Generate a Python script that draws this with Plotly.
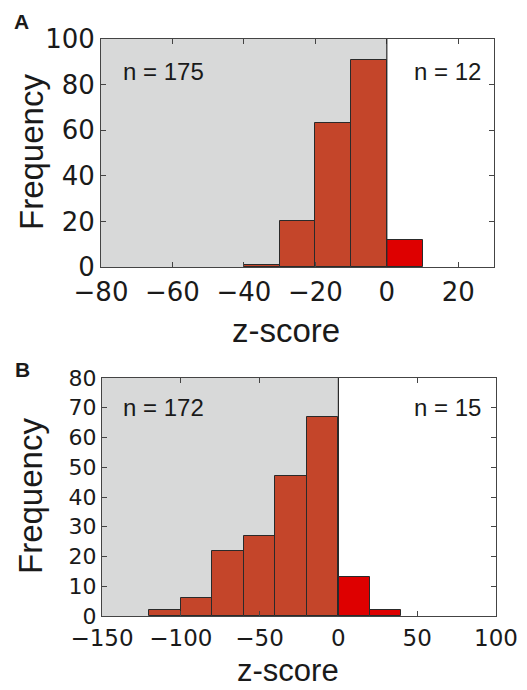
import plotly.graph_objects as go

# ---- data ----
a_bin_left = [-40, -30, -20, -10, 0]
a_counts = [1, 20, 63, 91, 12]
a_width = 10
b_bin_left = [-120, -100, -80, -60, -40, -20, 0, 20]
b_counts = [2, 6, 22, 27, 47, 67, 13, 2]
b_width = 20
a_n_labels = ["n = 175", "n = 12"]
b_n_labels = ["n = 172", "n = 15"]

W, H = 527, 690
ORANGE = "#C4452A"
RED = "#DE0000"
GRAY = "#D8D9D9"
EDGE = "#2a2a2a"
AX = "#444444"

TICKFONT = "DejaVu Sans"
TXTFONT = "Liberation Sans, Arial, Helvetica, sans-serif"


def px_x(p):
    return p / W


def px_y(p):
    return 1 - p / H


fig = go.Figure()


def add_hist(lefts, counts, width, xa, ya):
    centers = [l + width / 2 for l in lefts]
    colors = [RED if l >= 0 else ORANGE for l in lefts]
    fig.add_trace(go.Bar(
        x=centers, y=counts, width=width,
        marker=dict(color=colors, line=dict(color=EDGE, width=1)),
        xaxis=xa, yaxis=ya, showlegend=False, hoverinfo="x+y",
    ))


add_hist(a_bin_left, a_counts, a_width, "x", "y")
add_hist(b_bin_left, b_counts, b_width, "x2", "y2")

a_xrange, a_yrange = [-80, 30], [0, 100]
b_xrange, b_yrange = [-150, 100], [0, 80]

axis_common = dict(
    showline=True, linecolor=AX, linewidth=1, mirror="ticks",
    ticks="inside", ticklen=5, tickwidth=1, tickcolor=AX,
    showgrid=False, zeroline=False, fixedrange=True, automargin=False,
)

fig.update_layout(
    width=W, height=H,
    margin=dict(l=0, r=0, t=0, b=0, autoexpand=False),
    paper_bgcolor="white", plot_bgcolor="white",
    bargap=0,
    xaxis=dict(domain=[px_x(101), px_x(494)], range=a_xrange, dtick=20,
               anchor="y", ticklabelstandoff=2,
               tickfont=dict(family=TICKFONT, size=26, color="#1a1a1a"),
               **axis_common),
    yaxis=dict(domain=[px_y(267), px_y(39)], range=a_yrange, dtick=20,
               anchor="x", tickfont=dict(family=TICKFONT, size=26, color="#1a1a1a"),
               **axis_common),
    xaxis2=dict(domain=[px_x(102), px_x(496)], range=b_xrange, dtick=50,
                anchor="y2", ticklabelstandoff=1,
                tickfont=dict(family=TICKFONT, size=23, color="#1a1a1a"),
                **axis_common),
    yaxis2=dict(domain=[px_y(616), px_y(378)], range=b_yrange, dtick=10,
                anchor="x2", tickfont=dict(family=TICKFONT, size=22, color="#1a1a1a"),
                **axis_common),
)

# gray background for negative z-scores, and divider at 0
for xr, yr, xref, yref in [(a_xrange, a_yrange, "x", "y"), (b_xrange, b_yrange, "x2", "y2")]:
    fig.add_shape(type="rect", xref=xref, yref=yref, x0=xr[0], x1=0, y0=yr[0], y1=yr[1],
                  fillcolor=GRAY, line=dict(width=0), layer="below")
    fig.add_shape(type="line", xref=xref, yref=yref, x0=0, x1=0, y0=yr[0], y1=yr[1],
                  line=dict(color=EDGE, width=1.2), layer="above")

ann = []
txt = dict(family=TXTFONT, color="#1a1a1a")
# n labels
ann.append(dict(text=a_n_labels[0], x=px_x(121), y=px_y(71), xanchor="left", yanchor="middle",
                font=dict(size=24, **txt)))
ann.append(dict(text=a_n_labels[1], x=px_x(483), y=px_y(71), xanchor="right", yanchor="middle",
                font=dict(size=24, **txt)))
ann.append(dict(text=b_n_labels[0], x=px_x(121), y=px_y(407), xanchor="left", yanchor="middle",
                font=dict(size=24, **txt)))
ann.append(dict(text=b_n_labels[1], x=px_x(483), y=px_y(407), xanchor="right", yanchor="middle",
                font=dict(size=24, **txt)))
# axis titles
ann.append(dict(text="Frequency", x=px_x(31), y=px_y(152), textangle=-90,
                xanchor="center", yanchor="middle", font=dict(size=33, **txt)))
ann.append(dict(text="z-score", x=px_x(286), y=px_y(330), xanchor="center", yanchor="middle",
                font=dict(size=33, **txt)))
ann.append(dict(text="Frequency", x=px_x(30), y=px_y(496), textangle=-90,
                xanchor="center", yanchor="middle", font=dict(size=33, **txt)))
ann.append(dict(text="z-score", x=px_x(288), y=0, xanchor="center", yanchor="bottom",
                font=dict(size=31, **txt)))
# panel letters
ann.append(dict(text="<b>A</b>", x=px_x(12), y=px_y(22), xanchor="left", yanchor="middle",
                font=dict(size=21, **txt)))
ann.append(dict(text="<b>B</b>", x=px_x(13), y=px_y(369), xanchor="left", yanchor="middle",
                font=dict(size=21, **txt)))

for a in ann:
    a.update(xref="paper", yref="paper", showarrow=False)
fig.update_layout(annotations=ann)

fig.write_html(
    "out.html",
    config={"displayModeBar": False},
    post_script="document.body.style.margin='0';document.body.style.overflow='hidden';",
)
